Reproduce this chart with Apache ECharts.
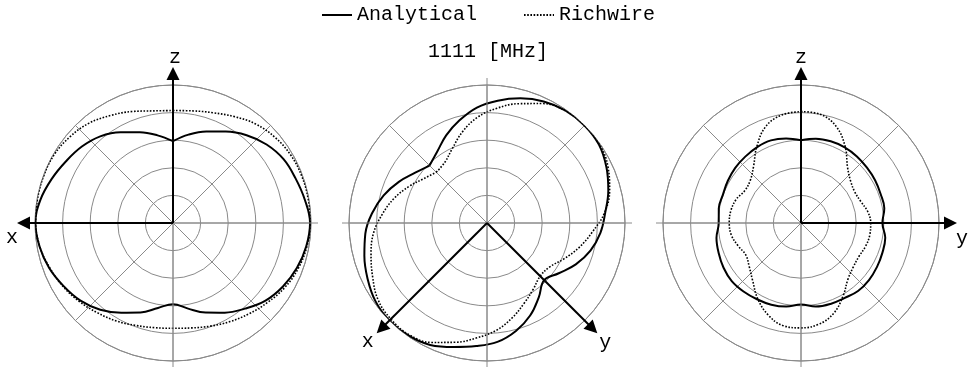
<!DOCTYPE html>
<html>
<head>
<meta charset="utf-8">
<script src="https://cdn.jsdelivr.net/npm/echarts@6/dist/echarts.min.js"></script>
<style>
  html, body { margin: 0; padding: 0; background: #fff; }
  #chart { width: 976px; height: 367px; }
</style>
</head>
<body>
<div id="chart"></div>
<script>
// angles in degrees, clockwise from the upward axis; radius normalised to the outer ring
const xzAngles = [0, 10, 20, 30, 40, 50, 60, 70, 80, 90, 100, 110, 120, 130, 140, 150, 160, 170,
    180, 190, 200, 210, 220, 230, 240, 250, 260, 270, 280, 290, 300, 310, 320, 330, 340, 350];
const xzAnalytical = [0.593, 0.65, 0.705, 0.765, 0.83, 0.885, 0.925, 0.945, 0.97, 0.993, 0.98, 0.955,
    0.92, 0.875, 0.81, 0.75, 0.69, 0.63, 0.588, 0.625, 0.69, 0.75, 0.82, 0.875,
    0.915, 0.955, 0.982, 0.997, 0.975, 0.935, 0.895, 0.862, 0.82, 0.76, 0.70, 0.645];
const xzRichwire = [0.815, 0.825, 0.85, 0.89, 0.935, 0.965, 0.985, 0.993, 0.995, 0.995, 0.985, 0.965,
    0.935, 0.895, 0.858, 0.825, 0.795, 0.772, 0.763, 0.77, 0.79, 0.82, 0.85, 0.885,
    0.92, 0.95, 0.98, 0.995, 0.997, 0.997, 0.993, 0.973, 0.945, 0.90, 0.86, 0.825];

const xyAngles = [315, 325, 335, 345, 355, 5, 15, 25, 35, 45, 55, 65, 75, 85, 95, 105, 115, 125,
    135, 145, 155, 165, 175, 185, 195, 205, 215, 225, 235, 245, 255, 265, 275, 285, 295, 305];
const xyAnalytical = [0.589, 0.63, 0.70, 0.77, 0.84, 0.89, 0.935, 0.972, 0.994, 0.999, 0.99, 0.955,
    0.91, 0.86, 0.825, 0.776, 0.71, 0.635, 0.586, 0.655, 0.74, 0.81, 0.865, 0.895,
    0.93, 0.975, 0.995, 1.0, 0.987, 0.955, 0.92, 0.885, 0.835, 0.775, 0.705, 0.635];
const xyRichwire = [0.52, 0.535, 0.595, 0.685, 0.77, 0.835, 0.895, 0.955, 0.992, 1.0, 0.995, 0.967,
    0.92, 0.855, 0.765, 0.69, 0.615, 0.555, 0.545, 0.585, 0.64, 0.71, 0.78, 0.835,
    0.895, 0.955, 0.987, 0.985, 0.965, 0.915, 0.87, 0.825, 0.76, 0.695, 0.625, 0.56];

const yzAngles = xzAngles;
const yzAnalytical = [0.60, 0.62, 0.63, 0.633, 0.63, 0.624, 0.62, 0.614, 0.613, 0.59, 0.62, 0.628,
    0.636, 0.643, 0.643, 0.628, 0.624, 0.615, 0.59, 0.615, 0.63, 0.638, 0.648, 0.655,
    0.648, 0.635, 0.622, 0.596, 0.605, 0.602, 0.612, 0.622, 0.628, 0.635, 0.637, 0.622];
const yzRichwire = [0.807, 0.80, 0.745, 0.64, 0.525, 0.47, 0.45, 0.46, 0.49, 0.505, 0.506, 0.497,
    0.485, 0.495, 0.53, 0.61, 0.695, 0.745, 0.76, 0.755, 0.705, 0.63, 0.545, 0.49,
    0.462, 0.485, 0.512, 0.52, 0.516, 0.50, 0.47, 0.48, 0.535, 0.64, 0.745, 0.795];

const ringTicks = { min: 0, max: 1, interval: 0.2 };
const seriesNames = ['Analytical', 'Richwire'];
const titleText = '1111 [MHz]';

// layout of the three polar plots
const FONT = 'Liberation Mono';
const R = 138;
const plots = [
    { center: [173, 223], data: [[xzAngles, xzAnalytical], [xzAngles, xzRichwire]],
      arrows: [{ dir: [0, -1], label: 'z', off: [2, -9] }, { dir: [-1, 0], label: 'x', off: [-5, 15] }] },
    { center: [487, 223], data: [[xyAngles, xyAnalytical], [xyAngles, xyRichwire]],
      arrows: [{ dir: [-0.7071, 0.7071], label: 'x', off: [-9, 8] }, { dir: [0.7071, 0.7071], label: 'y', off: [8, 9] }] },
    { center: [801, 223], data: [[yzAngles, yzAnalytical], [yzAngles, yzRichwire]],
      arrows: [{ dir: [0, -1], label: 'z', off: [0, -9] }, { dir: [1, 0], label: 'y', off: [5, 16] }] }
];

const gridColor = '#8a8a8a';

function closedLoop(angles, values) {
    const pts = angles.map((a, i) => [values[i], a]);
    pts.push(pts[0]);
    return pts;
}

const series = [];
plots.forEach((p, i) => {
    series.push({
        name: seriesNames[0], type: 'line', coordinateSystem: 'polar', polarIndex: i,
        data: closedLoop(p.data[0][0], p.data[0][1]),
        symbol: 'none', smooth: 0.4, silent: true, z: 4,
        itemStyle: { color: '#000' },
        lineStyle: { color: '#000', width: 2 }
    });
    series.push({
        name: seriesNames[1], type: 'line', coordinateSystem: 'polar', polarIndex: i,
        data: closedLoop(p.data[1][0], p.data[1][1]),
        symbol: 'none', smooth: 0.4, silent: true, z: 3,
        itemStyle: { color: '#000' },
        lineStyle: { color: '#000', width: 1.6, type: [1.6, 1.6] }
    });
});

const graphic = [];
const ARROW = 156, HEAD = 13, CROSS = 145;
plots.forEach(p => {
    const [cx, cy] = p.center;
    graphic.push({ type: 'line', z: 5, silent: true,
        shape: { x1: cx - CROSS, y1: cy, x2: cx + CROSS, y2: cy },
        style: { stroke: gridColor, lineWidth: 1 } });
    graphic.push({ type: 'line', z: 5, silent: true,
        shape: { x1: cx, y1: cy - CROSS, x2: cx, y2: cy + CROSS },
        style: { stroke: gridColor, lineWidth: 1 } });
    p.arrows.forEach(a => {
        const [dx, dy] = a.dir;
        const tx = cx + dx * ARROW, ty = cy + dy * ARROW;
        const bx = tx - dx * HEAD, by = ty - dy * HEAD;
        const nx = -dy * HEAD / 2, ny = dx * HEAD / 2;
        graphic.push({ type: 'line', z: 10, silent: true,
            shape: { x1: cx, y1: cy, x2: bx + dx, y2: by + dy },
            style: { stroke: '#000', lineWidth: 2 } });
        graphic.push({ type: 'polygon', z: 10, silent: true,
            shape: { points: [[tx, ty], [bx + nx, by + ny], [bx - nx, by - ny]] },
            style: { fill: '#000' } });
        graphic.push({ type: 'text', z: 10, silent: true,
            x: tx + a.off[0], y: ty + a.off[1],
            style: { text: a.label, font: '20px "' + FONT + '"', fill: '#000',
                align: 'center', verticalAlign: 'middle' } });
    });
});

const chart = echarts.init(document.getElementById('chart'), null, { renderer: 'canvas' });
chart.setOption({
    animation: false,
    backgroundColor: '#fff',
    title: {
        text: titleText, left: 'center', top: 37,
        textStyle: { fontFamily: FONT, fontSize: 20, fontWeight: 'normal', color: '#000' }
    },
    legend: {
        data: seriesNames, top: 0, left: 'center', itemWidth: 30, itemHeight: 14, itemGap: 46,
        itemStyle: { opacity: 0 },
        textStyle: { fontFamily: FONT, fontSize: 20, color: '#000' }
    },
    polar: plots.map(p => ({ center: p.center, radius: R })),
    angleAxis: plots.map((p, i) => ({
        polarIndex: i, type: 'value', min: 0, max: 360, interval: 45,
        startAngle: 90, clockwise: true,
        axisLine: { show: true, lineStyle: { color: gridColor, width: 1 } },
        axisTick: { show: false }, axisLabel: { show: false },
        splitLine: { show: true, lineStyle: { color: gridColor, width: 1 } }
    })),
    radiusAxis: plots.map((p, i) => ({
        polarIndex: i, type: 'value', min: ringTicks.min, max: ringTicks.max, interval: ringTicks.interval,
        axisLine: { show: false }, axisTick: { show: false }, axisLabel: { show: false },
        splitLine: { show: true, lineStyle: { color: gridColor, width: 1 } }
    })),
    series: series,
    graphic: graphic
});
</script>
</body>
</html>
